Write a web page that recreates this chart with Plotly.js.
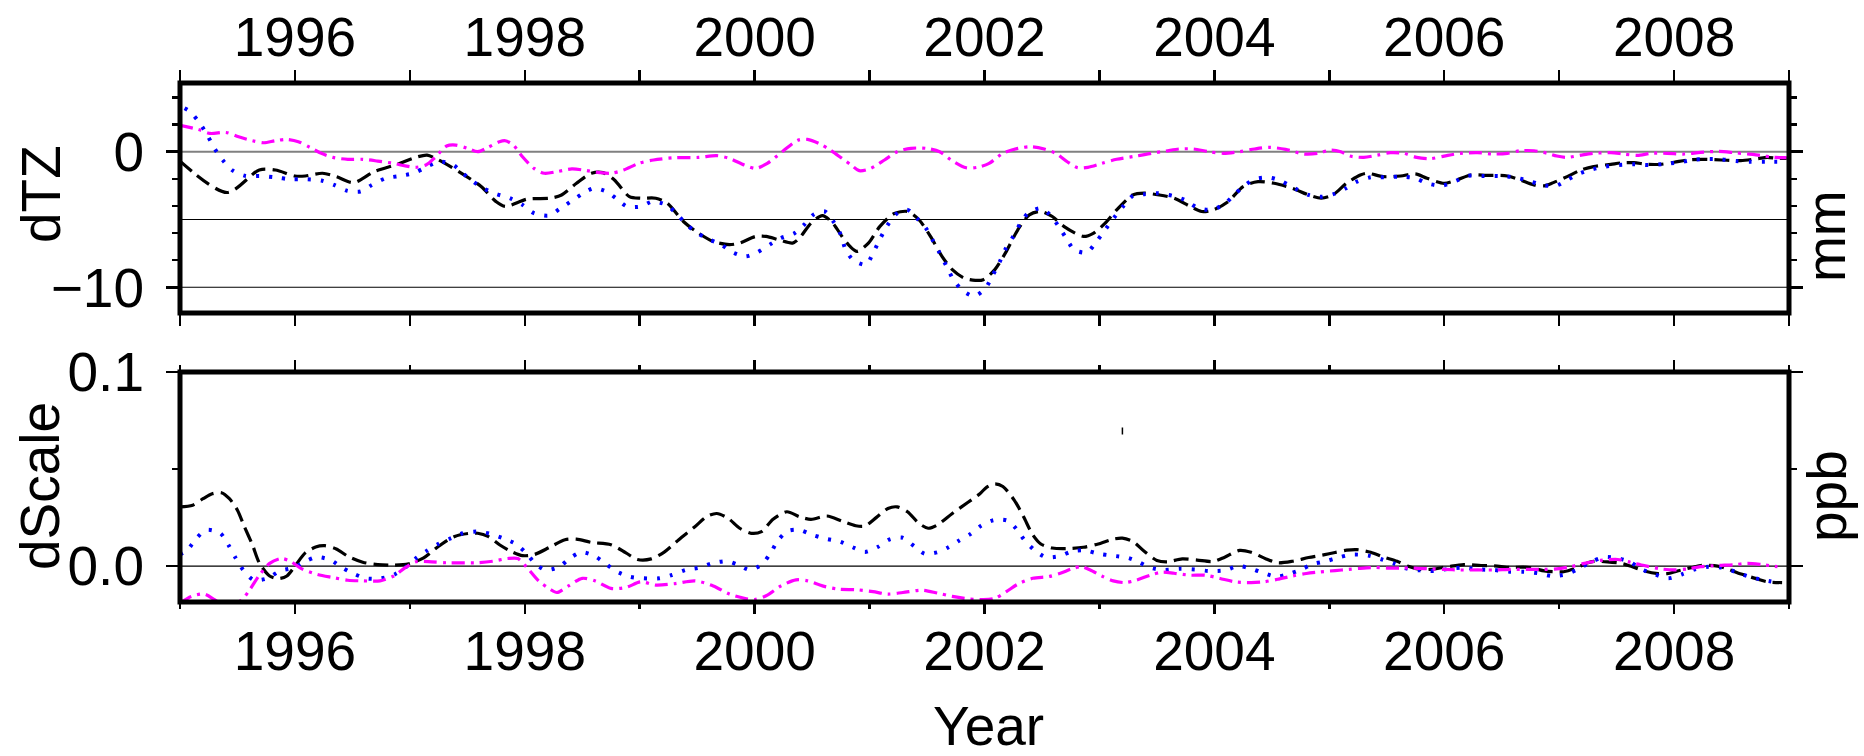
<!DOCTYPE html>
<html>
<head>
<meta charset="utf-8">
<script src="https://cdn.plot.ly/plotly-3.0.1.min.js"></script>
<style>
  html, body { margin: 0; padding: 0; background: #ffffff; }
  #chart { width: 1864px; height: 756px; }
</style>
</head>
<body>
<div id="chart"></div>
<script>
// ---------------- data (decimal year, value) ----------------
const yearTicks  = [1996, 1998, 2000, 2002, 2004, 2006, 2008];
const yearLabels = ['1996', '1998', '2000', '2002', '2004', '2006', '2008'];
const tzTicks  = [0, -10];
const tzLabels = ['0', '\u221210'];
const tzGrid   = [-5, -10];
const tzZero   = [0];
const scTicks  = [0, 0.1];
const scLabels = ['0.0', '0.1'];
const scGrid   = [0];

// dTZ (mm)
const tzBlack = [[1995.0,-0.7],[1995.41,-3.01],[1995.69,-1.35],[1995.83,-1.35],[1996.0,-1.79],[1996.09,-1.79],[1996.24,-1.59],[1996.36,-1.84],[1996.51,-2.28],[1996.69,-1.47],[1996.89,-0.93],[1997.05,-0.42],[1997.15,-0.25],[1997.25,-0.61],[1997.45,-1.59],[1997.62,-2.57],[1997.75,-3.68],[1997.83,-4.04],[1998.02,-3.5],[1998.22,-3.43],[1998.32,-3.19],[1998.45,-2.33],[1998.58,-1.59],[1998.68,-1.54],[1998.78,-2.08],[1998.91,-3.31],[1999.01,-3.43],[1999.14,-3.43],[1999.24,-3.8],[1999.38,-5.15],[1999.51,-6.0],[1999.64,-6.62],[1999.78,-6.86],[1999.87,-6.74],[2000.01,-6.25],[2000.1,-6.25],[2000.21,-6.5],[2000.33,-6.74],[2000.39,-6.37],[2000.49,-5.27],[2000.59,-4.71],[2000.68,-5.27],[2000.76,-6.25],[2000.83,-6.99],[2000.89,-7.35],[2000.99,-6.74],[2001.09,-5.51],[2001.21,-4.58],[2001.33,-4.41],[2001.43,-5.02],[2001.53,-6.25],[2001.63,-7.72],[2001.72,-8.7],[2001.82,-9.31],[2001.92,-9.49],[2001.99,-9.44],[2002.09,-8.7],[2002.19,-7.35],[2002.29,-5.76],[2002.39,-4.66],[2002.49,-4.41],[2002.59,-4.78],[2002.69,-5.51],[2002.86,-6.25],[2002.95,-6.0],[2003.05,-5.27],[2003.15,-4.29],[2003.29,-3.19],[2003.39,-3.06],[2003.52,-3.19],[2003.65,-3.43],[2003.79,-4.04],[2003.89,-4.41],[2003.99,-4.29],[2004.12,-3.68],[2004.25,-2.57],[2004.38,-2.21],[2004.52,-2.33],[2004.68,-2.7],[2004.82,-3.19],[2004.93,-3.43],[2005.03,-3.19],[2005.15,-2.33],[2005.27,-1.72],[2005.33,-1.59],[2005.47,-1.84],[2005.62,-1.79],[2005.75,-1.64],[2005.85,-1.96],[2006.0,-2.33],[2006.11,-2.08],[2006.23,-1.72],[2006.37,-1.74],[2006.55,-1.79],[2006.66,-2.08],[2006.78,-2.45],[2006.87,-2.52],[2006.95,-2.28],[2007.07,-1.84],[2007.19,-1.35],[2007.3,-1.1],[2007.45,-0.93],[2007.56,-0.81],[2007.65,-0.81],[2007.77,-0.93],[2007.88,-0.93],[2008.0,-0.78],[2008.12,-0.61],[2008.24,-0.56],[2008.41,-0.61],[2008.58,-0.66],[2008.73,-0.51],[2008.81,-0.42],[2008.9,-0.49],[2008.98,-0.49]];
const tzBlue = [[1995.04,3.2],[1995.09,2.94],[1995.17,2.13],[1995.24,1.18],[1995.3,0.25],[1995.37,-0.61],[1995.46,-1.4],[1995.57,-1.79],[1995.7,-1.79],[1995.83,-1.89],[1995.96,-2.03],[1996.09,-2.03],[1996.23,-2.13],[1996.34,-2.45],[1996.45,-2.87],[1996.57,-2.94],[1996.67,-2.45],[1996.79,-1.96],[1996.91,-1.79],[1997.03,-1.59],[1997.14,-1.15],[1997.25,-0.74],[1997.37,-0.93],[1997.46,-1.59],[1997.55,-2.21],[1997.64,-2.7],[1997.75,-3.11],[1997.87,-3.43],[1997.98,-3.92],[1998.08,-4.53],[1998.21,-4.71],[1998.31,-4.17],[1998.4,-3.68],[1998.5,-3.11],[1998.6,-2.7],[1998.71,-2.94],[1998.8,-3.48],[1998.89,-4.04],[1999.01,-4.04],[1999.11,-3.68],[1999.23,-3.92],[1999.33,-4.66],[1999.41,-5.39],[1999.5,-6.0],[1999.6,-6.45],[1999.71,-6.86],[1999.81,-7.43],[1999.92,-7.72],[2000.02,-7.43],[2000.13,-6.86],[2000.23,-6.37],[2000.35,-6.0],[2000.43,-5.39],[2000.51,-4.66],[2000.61,-4.41],[2000.69,-5.22],[2000.75,-6.13],[2000.79,-7.18],[2000.86,-8.01],[2000.97,-8.33],[2001.03,-7.48],[2001.09,-6.45],[2001.15,-5.51],[2001.23,-4.61],[2001.33,-4.29],[2001.41,-4.9],[2001.49,-5.64],[2001.55,-6.54],[2001.61,-7.48],[2001.67,-8.46],[2001.73,-9.44],[2001.81,-10.25],[2001.91,-10.66],[2002.01,-10.05],[2002.07,-9.14],[2002.13,-8.16],[2002.18,-7.23],[2002.25,-6.25],[2002.31,-5.32],[2002.38,-4.53],[2002.49,-4.17],[2002.57,-4.66],[2002.64,-5.44],[2002.71,-6.37],[2002.78,-7.23],[2002.89,-7.43],[2002.97,-6.67],[2003.05,-5.76],[2003.12,-4.95],[2003.2,-4.09],[2003.29,-3.26],[2003.39,-3.14],[2003.5,-3.06],[2003.64,-3.26],[2003.74,-3.55],[2003.85,-4.12],[2003.97,-4.29],[2004.09,-3.85],[2004.17,-3.19],[2004.27,-2.45],[2004.35,-2.03],[2004.48,-1.91],[2004.58,-2.16],[2004.7,-2.7],[2004.82,-3.19],[2004.92,-3.33],[2005.03,-3.15],[2005.14,-2.72],[2005.24,-2.21],[2005.36,-1.89],[2005.49,-1.89],[2005.62,-1.84],[2005.75,-1.96],[2005.85,-2.33],[2005.98,-2.5],[2006.1,-2.16],[2006.2,-1.79],[2006.35,-1.79],[2006.48,-1.79],[2006.61,-1.89],[2006.74,-2.16],[2006.85,-2.45],[2006.97,-2.52],[2007.07,-2.08],[2007.17,-1.64],[2007.29,-1.3],[2007.4,-1.1],[2007.52,-0.98],[2007.65,-0.93],[2007.78,-0.98],[2007.9,-0.91],[2008.03,-0.81],[2008.16,-0.61],[2008.28,-0.54],[2008.41,-0.56],[2008.54,-0.69],[2008.67,-0.74],[2008.8,-0.74],[2008.94,-0.74]];
const tzMagenta = [[1995.0,1.95],[1995.16,1.64],[1995.26,1.35],[1995.4,1.42],[1995.51,1.1],[1995.63,0.81],[1995.73,0.66],[1995.83,0.81],[1995.93,0.91],[1996.03,0.74],[1996.13,0.32],[1996.23,-0.12],[1996.33,-0.42],[1996.46,-0.56],[1996.59,-0.56],[1996.72,-0.69],[1996.86,-0.86],[1996.96,-1.05],[1997.05,-1.15],[1997.14,-0.98],[1997.22,-0.42],[1997.32,0.42],[1997.4,0.49],[1997.5,0.25],[1997.59,0.0],[1997.68,0.32],[1997.78,0.74],[1997.83,0.81],[1997.9,0.49],[1997.98,-0.37],[1998.08,-1.23],[1998.17,-1.59],[1998.28,-1.47],[1998.41,-1.27],[1998.51,-1.35],[1998.65,-1.54],[1998.75,-1.59],[1998.86,-1.35],[1998.99,-0.86],[1999.12,-0.61],[1999.31,-0.44],[1999.51,-0.42],[1999.67,-0.29],[1999.78,-0.49],[1999.91,-0.98],[2000.01,-1.23],[2000.11,-0.86],[2000.25,0.07],[2000.38,0.86],[2000.46,0.91],[2000.56,0.61],[2000.66,0.12],[2000.76,-0.49],[2000.84,-0.98],[2000.91,-1.4],[2001.01,-1.23],[2001.13,-0.61],[2001.24,0.0],[2001.36,0.25],[2001.49,0.25],[2001.61,0.0],[2001.71,-0.61],[2001.84,-1.18],[2001.94,-1.15],[2002.04,-0.86],[2002.16,-0.12],[2002.29,0.25],[2002.41,0.37],[2002.52,0.2],[2002.62,-0.12],[2002.72,-0.74],[2002.81,-1.18],[2002.9,-1.15],[2003.02,-0.86],[2003.15,-0.56],[2003.32,-0.32],[2003.45,-0.12],[2003.58,0.05],[2003.69,0.2],[2003.82,0.2],[2003.95,0.0],[2004.08,-0.12],[2004.22,0.0],[2004.35,0.2],[2004.48,0.32],[2004.62,0.17],[2004.78,-0.17],[2004.9,-0.12],[2005.01,0.12],[2005.1,0.0],[2005.18,-0.32],[2005.3,-0.42],[2005.42,-0.25],[2005.53,-0.07],[2005.65,-0.12],[2005.76,-0.42],[2005.88,-0.51],[2006.0,-0.32],[2006.14,-0.12],[2006.29,-0.07],[2006.43,-0.17],[2006.55,-0.12],[2006.66,0.07],[2006.78,0.07],[2006.9,-0.12],[2006.98,-0.32],[2007.07,-0.42],[2007.19,-0.25],[2007.3,-0.12],[2007.45,-0.07],[2007.56,-0.17],[2007.68,-0.27],[2007.8,-0.12],[2007.94,-0.12],[2008.09,-0.17],[2008.23,-0.05],[2008.38,0.02],[2008.52,-0.07],[2008.64,-0.17],[2008.75,-0.27],[2008.87,-0.42],[2008.98,-0.44]];

// dScale (ppb)
const scBlack = [[1995.0,0.0305],[1995.11,0.0314],[1995.2,0.0347],[1995.28,0.0373],[1995.36,0.0378],[1995.43,0.0347],[1995.5,0.0288],[1995.56,0.0203],[1995.63,0.011],[1995.69,0.0017],[1995.78,-0.0051],[1995.86,-0.0064],[1995.93,-0.0051],[1996.01,0.0008],[1996.09,0.0068],[1996.18,0.0098],[1996.26,0.0105],[1996.36,0.0088],[1996.46,0.0051],[1996.59,0.002],[1996.72,0.0008],[1996.86,0.0005],[1996.99,0.0012],[1997.12,0.0042],[1997.25,0.0102],[1997.39,0.0153],[1997.52,0.0169],[1997.59,0.0169],[1997.68,0.0153],[1997.78,0.011],[1997.88,0.0076],[1997.98,0.0054],[1998.08,0.0059],[1998.22,0.0098],[1998.35,0.0136],[1998.45,0.0139],[1998.58,0.0122],[1998.75,0.011],[1998.88,0.0068],[1998.98,0.0034],[1999.1,0.0037],[1999.21,0.0071],[1999.34,0.0136],[1999.48,0.0203],[1999.58,0.0254],[1999.67,0.0271],[1999.77,0.0246],[1999.87,0.0195],[1999.97,0.0169],[2000.06,0.0178],[2000.16,0.0241],[2000.28,0.028],[2000.39,0.0254],[2000.49,0.0241],[2000.63,0.0258],[2000.76,0.0232],[2000.88,0.0208],[2000.96,0.0207],[2001.06,0.0251],[2001.16,0.0297],[2001.24,0.0305],[2001.33,0.028],[2001.43,0.022],[2001.51,0.0195],[2001.59,0.0212],[2001.72,0.0271],[2001.86,0.033],[2001.96,0.0373],[2002.02,0.0407],[2002.09,0.0424],[2002.16,0.041],[2002.26,0.0339],[2002.34,0.0254],[2002.42,0.0161],[2002.49,0.0114],[2002.59,0.0093],[2002.72,0.009],[2002.86,0.0097],[2002.99,0.0114],[2003.12,0.0139],[2003.2,0.0144],[2003.29,0.0127],[2003.39,0.0076],[2003.5,0.0029],[2003.59,0.0022],[2003.72,0.0037],[2003.85,0.0031],[2003.99,0.0024],[2004.09,0.0046],[2004.22,0.0081],[2004.32,0.0071],[2004.45,0.0037],[2004.55,0.0017],[2004.68,0.0025],[2004.82,0.0044],[2004.95,0.0058],[2005.05,0.007],[2005.15,0.0082],[2005.24,0.0085],[2005.36,0.0071],[2005.47,0.0047],[2005.59,0.0025],[2005.68,0.0],[2005.79,-0.0017],[2005.88,-0.0017],[2006.03,-0.0003],[2006.17,0.0008],[2006.32,0.0003],[2006.46,0.0],[2006.58,-0.0007],[2006.69,-0.0005],[2006.78,-0.0012],[2006.87,-0.0025],[2006.95,-0.0029],[2007.04,-0.0029],[2007.13,-0.0014],[2007.25,0.0017],[2007.3,0.0024],[2007.42,0.0022],[2007.54,0.0014],[2007.62,0.0],[2007.74,-0.0025],[2007.86,-0.0039],[2007.94,-0.0039],[2008.03,-0.0025],[2008.15,-0.0008],[2008.23,0.0003],[2008.38,0.0],[2008.46,-0.0014],[2008.55,-0.0034],[2008.64,-0.0051],[2008.73,-0.0068],[2008.81,-0.0081],[2008.94,-0.0085]];
const scBlue = [[1995.0,0.006],[1995.06,0.008],[1995.14,0.0141],[1995.23,0.0186],[1995.35,0.0169],[1995.42,0.011],[1995.48,0.0046],[1995.55,-0.002],[1995.64,-0.0071],[1995.76,-0.0063],[1995.87,-0.0025],[1995.99,-0.0008],[1996.09,0.0024],[1996.19,0.0046],[1996.31,0.0031],[1996.41,-0.0008],[1996.51,-0.0039],[1996.62,-0.0063],[1996.74,-0.0064],[1996.87,-0.0042],[1996.97,-0.0003],[1997.05,0.0039],[1997.14,0.0076],[1997.25,0.0115],[1997.36,0.0144],[1997.46,0.0169],[1997.58,0.0178],[1997.7,0.0166],[1997.81,0.0144],[1997.92,0.0115],[1998.01,0.0068],[1998.09,0.0014],[1998.18,-0.002],[1998.3,-0.0003],[1998.39,0.0039],[1998.49,0.0071],[1998.6,0.0054],[1998.7,0.0014],[1998.79,-0.0025],[1998.91,-0.0054],[1999.03,-0.0063],[1999.17,-0.0063],[1999.28,-0.0046],[1999.4,-0.002],[1999.52,-0.0008],[1999.63,0.0014],[1999.76,0.0025],[1999.86,0.0005],[1999.96,-0.002],[2000.06,0.0008],[2000.14,0.0068],[2000.2,0.013],[2000.29,0.0181],[2000.39,0.0186],[2000.5,0.0161],[2000.62,0.0141],[2000.74,0.0127],[2000.85,0.0098],[2000.96,0.0073],[2001.07,0.0098],[2001.17,0.0136],[2001.28,0.0147],[2001.39,0.0102],[2001.48,0.0064],[2001.59,0.0071],[2001.69,0.0098],[2001.78,0.0132],[2001.88,0.0166],[2001.97,0.0208],[2002.08,0.0237],[2002.2,0.0234],[2002.28,0.019],[2002.35,0.0132],[2002.43,0.0085],[2002.53,0.0047],[2002.65,0.0051],[2002.76,0.0076],[2002.87,0.0081],[2002.99,0.0064],[2003.11,0.0054],[2003.25,0.0042],[2003.34,0.0022],[2003.44,-0.0008],[2003.56,-0.002],[2003.7,-0.0014],[2003.83,-0.0017],[2003.95,-0.0025],[2004.09,-0.0022],[2004.21,0.0],[2004.32,-0.0014],[2004.42,-0.0034],[2004.54,-0.0054],[2004.64,-0.0042],[2004.75,-0.0019],[2004.86,0.0011],[2004.97,0.0025],[2005.08,0.0044],[2005.2,0.0059],[2005.34,0.0054],[2005.46,0.0034],[2005.56,0.0014],[2005.67,-0.0012],[2005.79,-0.0022],[2005.92,-0.0025],[2006.04,-0.0014],[2006.16,-0.0008],[2006.3,-0.0017],[2006.43,-0.002],[2006.57,-0.0029],[2006.69,-0.0029],[2006.82,-0.0037],[2006.94,-0.0051],[2007.06,-0.0042],[2007.17,-0.0014],[2007.28,0.0022],[2007.39,0.0046],[2007.52,0.0039],[2007.62,0.002],[2007.72,-0.0017],[2007.83,-0.0042],[2007.95,-0.0063],[2008.07,-0.0042],[2008.18,-0.0017],[2008.3,-0.0003],[2008.42,-0.0008],[2008.54,-0.0031],[2008.65,-0.0054],[2008.77,-0.0071],[2008.9,-0.0085]];
const scMagenta = [[1995.0,-0.019],[1995.1,-0.0156],[1995.21,-0.0144],[1995.3,-0.0173],[1995.4,-0.021],[1995.53,-0.0178],[1995.61,-0.0119],[1995.69,-0.0047],[1995.78,0.0014],[1995.88,0.0039],[1995.96,0.0025],[1996.06,-0.0014],[1996.19,-0.0042],[1996.33,-0.0059],[1996.46,-0.0073],[1996.59,-0.0076],[1996.74,-0.0076],[1996.86,-0.0051],[1996.96,-0.0008],[1997.05,0.0022],[1997.19,0.0022],[1997.32,0.0017],[1997.45,0.0017],[1997.59,0.0017],[1997.72,0.0025],[1997.85,0.0039],[1997.94,0.0039],[1998.02,-0.0008],[1998.12,-0.0076],[1998.22,-0.0119],[1998.28,-0.0136],[1998.38,-0.0102],[1998.5,-0.0063],[1998.61,-0.0076],[1998.75,-0.0115],[1998.88,-0.011],[1999.01,-0.0081],[1999.14,-0.0098],[1999.31,-0.009],[1999.48,-0.0076],[1999.64,-0.0102],[1999.78,-0.0144],[1999.91,-0.0166],[2000.0,-0.0172],[2000.1,-0.0153],[2000.23,-0.0102],[2000.36,-0.0071],[2000.46,-0.0076],[2000.59,-0.0102],[2000.73,-0.0119],[2000.89,-0.0122],[2001.03,-0.0132],[2001.16,-0.0144],[2001.29,-0.0136],[2001.46,-0.0124],[2001.59,-0.0139],[2001.72,-0.0156],[2001.86,-0.0169],[2001.99,-0.0173],[2002.09,-0.0166],[2002.19,-0.0132],[2002.29,-0.0093],[2002.42,-0.0063],[2002.56,-0.0054],[2002.66,-0.0037],[2002.76,-0.0014],[2002.84,-0.0003],[2002.92,-0.002],[2003.02,-0.0051],[2003.12,-0.0076],[2003.22,-0.0085],[2003.32,-0.0073],[2003.44,-0.0047],[2003.55,-0.0031],[2003.65,-0.0037],[2003.79,-0.0047],[2003.92,-0.0047],[2004.05,-0.0064],[2004.18,-0.0081],[2004.32,-0.0085],[2004.43,-0.0081],[2004.55,-0.0068],[2004.68,-0.0051],[2004.8,-0.0038],[2004.92,-0.003],[2005.05,-0.0023],[2005.17,-0.0017],[2005.26,-0.0012],[2005.39,-0.0007],[2005.5,-0.001],[2005.62,-0.001],[2005.73,-0.001],[2005.88,-0.0014],[2006.0,-0.0017],[2006.14,-0.002],[2006.29,-0.002],[2006.43,-0.002],[2006.58,-0.0017],[2006.72,-0.0017],[2006.87,-0.0017],[2006.98,-0.0014],[2007.1,-0.0003],[2007.22,0.0014],[2007.36,0.0029],[2007.51,0.0034],[2007.62,0.002],[2007.74,0.0003],[2007.88,-0.0014],[2008.0,-0.002],[2008.12,-0.0014],[2008.23,-0.0003],[2008.38,0.0003],[2008.52,0.0007],[2008.64,0.0014],[2008.76,0.0008],[2008.9,-0.0003]];
// small stray mark visible in the lower panel
const scSpeck = [[2003.2, 0.0696]];

// ---------------- styling ----------------
const FONT = 'Liberation Sans, Arial, Helvetica, sans-serif';
const FS = 55;
const styles = {
  black:   {color: '#000000', width: 3.2, dash: '15px,7px'},
  blue:    {color: '#0000ff', width: 4,   dash: '3px,10px'},
  magenta: {color: '#ff00ff', width: 3.2, dash: '13px,6px,3px,6px'}
};

function tr(pairs, style, xa, ya) {
  return {
    type: 'scatter', mode: 'lines',
    x: pairs.map(p => p[0]), y: pairs.map(p => p[1]),
    xaxis: xa, yaxis: ya,
    line: Object.assign({shape: 'spline', smoothing: 0.8}, style),
    hoverinfo: 'skip', showlegend: false
  };
}

const data = [
  tr(tzBlack, styles.black, 'x', 'y'),
  tr(tzBlue, styles.blue, 'x', 'y'),
  tr(tzMagenta, styles.magenta, 'x', 'y'),
  tr(scBlack, styles.black, 'x2', 'y2'),
  tr(scBlue, styles.blue, 'x2', 'y2'),
  tr(scMagenta, styles.magenta, 'x2', 'y2'),
  {
    type: 'scatter', mode: 'markers', xaxis: 'x2', yaxis: 'y2',
    x: scSpeck.map(p => p[0]), y: scSpeck.map(p => p[1]),
    marker: {symbol: 'line-ns', size: 5, line: {width: 1.5, color: '#000'}},
    hoverinfo: 'skip', showlegend: false
  }
];

const L = 180, R = 75, T = 83, B = 154;
const plotH = 756 - T - B;            // 519
const topDom = [(602 - 313) / plotH, 1];
const botDom = [0, (602 - 372) / plotH];

const tickFont = {family: FONT, size: FS, color: '#000'};

const xCommon = {
  range: [1995, 2009], tickmode: 'array', tickvals: yearTicks, ticktext: yearLabels,
  ticks: 'outside', tickwidth: 2.5, tickcolor: '#000', mirror: 'ticks',
  showgrid: false, zeroline: false, showline: false, tickfont: tickFont,
  fixedrange: true
};

const shapes = [];
// frames
shapes.push({type: 'rect', xref: 'x domain', yref: 'y domain', x0: 0, x1: 1, y0: 0, y1: 1, line: {color: '#000', width: 5}, layer: 'above'});
shapes.push({type: 'rect', xref: 'x2 domain', yref: 'y2 domain', x0: 0, x1: 1, y0: 0, y1: 1, line: {color: '#000', width: 5}, layer: 'above'});
// grid lines
tzZero.forEach(v => shapes.push({type: 'line', xref: 'x domain', yref: 'y', x0: 0, x1: 1, y0: v, y1: v, line: {color: '#808080', width: 2}, layer: 'below'}));
tzGrid.forEach(v => shapes.push({type: 'line', xref: 'x domain', yref: 'y', x0: 0, x1: 1, y0: v, y1: v, line: {color: '#000', width: 1.2}, layer: 'below'}));
scGrid.forEach(v => shapes.push({type: 'line', xref: 'x2 domain', yref: 'y2', x0: 0, x1: 1, y0: v, y1: v, line: {color: '#000', width: 1.2}, layer: 'below'}));

const annFont = {family: FONT, size: FS, color: '#000'};
const px = v => (v - L) / (1864 - L - R);
const py = v => (756 - B - v) / plotH;
const annotations = [
  {text: 'dTZ', xref: 'paper', yref: 'paper', x: px(41), y: py(194), textangle: -90, showarrow: false, xanchor: 'center', yanchor: 'middle', font: annFont},
  {text: 'dScale', xref: 'paper', yref: 'paper', x: px(40), y: py(486), textangle: -90, showarrow: false, xanchor: 'center', yanchor: 'middle', font: annFont},
  {text: 'mm', xref: 'paper', yref: 'paper', x: px(1826), y: py(236), textangle: -90, showarrow: false, xanchor: 'center', yanchor: 'middle', font: annFont},
  {text: 'ppb', xref: 'paper', yref: 'paper', x: px(1827), y: py(496), textangle: -90, showarrow: false, xanchor: 'center', yanchor: 'middle', font: annFont},
  {text: 'Year', xref: 'paper', yref: 'paper', x: px(988), y: py(726), showarrow: false, xanchor: 'center', yanchor: 'middle', font: annFont}
];

const layout = {
  width: 1864, height: 756,
  margin: {l: L, r: R, t: T, b: B, pad: 0},
  paper_bgcolor: '#fff', plot_bgcolor: '#fff',
  showlegend: false,
  font: {family: FONT, color: '#000'},
  xaxis: Object.assign({}, xCommon, {
    anchor: 'y', side: 'top', ticklen: 12, ticklabelstandoff: -8,
    minor: {tickmode: 'linear', tick0: 1995, dtick: 1, ticks: 'outside', ticklen: 12, tickwidth: 2.5, tickcolor: '#000', showgrid: false}
  }),
  xaxis2: Object.assign({}, xCommon, {
    anchor: 'y2', side: 'bottom', ticklen: 11, ticklabelstandoff: -10,
    minor: {tickmode: 'linear', tick0: 1995, dtick: 1, ticks: 'outside', ticklen: 6, tickwidth: 2.5, tickcolor: '#000', showgrid: false}
  }),
  yaxis: {
    anchor: 'x', domain: topDom, range: [-11.9, 5.07],
    tickmode: 'array', tickvals: tzTicks, ticktext: tzLabels,
    ticks: 'outside', ticklen: 13, tickwidth: 2.5, tickcolor: '#000', mirror: 'ticks',
    minor: {tickmode: 'linear', tick0: 0, dtick: 2, ticks: 'outside', ticklen: 7, tickwidth: 2.5, tickcolor: '#000', showgrid: false},
    showgrid: false, zeroline: false, showline: false, tickfont: tickFont, ticklabelstandoff: 11, fixedrange: true
  },
  yaxis2: {
    anchor: 'x2', domain: botDom, range: [-0.0185, 0.1],
    tickmode: 'array', tickvals: scTicks, ticktext: scLabels,
    ticks: 'outside', ticklen: 13, tickwidth: 2.5, tickcolor: '#000', mirror: 'ticks',
    minor: {tickmode: 'linear', tick0: 0, dtick: 0.05, ticks: 'outside', ticklen: 7, tickwidth: 2.5, tickcolor: '#000', showgrid: false},
    showgrid: false, zeroline: false, showline: false, tickfont: tickFont, ticklabelstandoff: 11, fixedrange: true
  },
  shapes: shapes,
  annotations: annotations
};

Plotly.newPlot('chart', data, layout, {staticPlot: true, displayModeBar: false});
</script>
</body>
</html>
